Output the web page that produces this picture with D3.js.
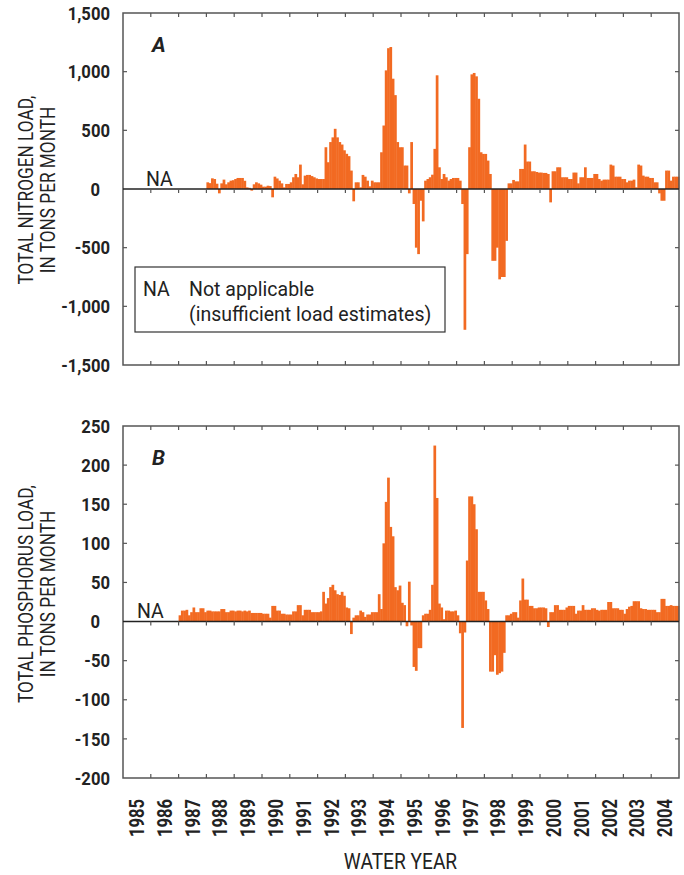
<!DOCTYPE html>
<html>
<head>
<meta charset="utf-8">
<script src="https://cdn.jsdelivr.net/npm/d3@7/dist/d3.min.js"></script>
<style>
  html, body { margin: 0; padding: 0; background: #fff; }
  svg { display: block; }
  text { font-family: Roboto, 'Liberation Sans', 'DejaVu Sans', sans-serif; fill: #222; }
</style>
</head>
<body>
<svg id="chart" width="684" height="875"></svg>
<script>
// ---------------- DATA ----------------
const waterYears = ["1985","1986","1987","1988","1989","1990","1991","1992","1993","1994",
                    "1995","1996","1997","1998","1999","2000","2001","2002","2003","2004"];

// Monthly change in total nitrogen load, tons per month, beginning October 1987 (water year 1988)
const nitrogenStartYear = "1988";
const nitrogenMonthly = [
  57, 50, 91, 85, 45, -37, 48, 80, 40, 57, 71, 75,
  85, 94, 94, 94, 70, 14, 10, -14, 40, 57, 48, 37,
  20, 20, 28, 25, -71, 105, 90, 71, 48, 14, 43, 43,
  57, 100, 128, 100, 208, 40, 114, 120, 120, 110, 100, 90,
  85, 85, 85, 356, 228, 400, 440, 513, 440, 400, 379, 330,
  300, 280, 157, -105, 57, 57, 14, 120, 105, 71, 23, 71,
  57, 57, 57, 313, 541, 1011, 1200, 1210, 940, 800, 400, 356,
  356, 200, 200, -37, 400, -128, -500, -555, -100, -276, 71, 85,
  100, 122, 342, 969, 185, 85, 128, 100, 71, 85, 94, 94,
  94, 71, -128, -1200, -555, 356, 977, 989, 960, 769, 313, 299,
  299, 242, 128, -612, -612, -500, -770, -750, -750, -442, 48, 48,
  77, 65, 65, 171, 171, 379, 234, 234, 151, 151, 145, 140,
  140, 137, 137, 128, -114, 151, 151, 185, 185, 100, 100, 100,
  85, 85, 140, 140, 48, 100, 100, 185, 94, 94, 94, 128,
  128, 85, 71, 80, 80, 80, 208, 200, 105, 105, 105, 85,
  85, 57, 71, 71, 80, 14, 208, 200, 114, 105, 105, 94,
  94, 57, 57, -37, -100, -100, 157, 157, 71, 105, 105, 105
];

// Monthly change in total phosphorus load, tons per month, beginning October 1986 (water year 1987)
const phosphorusStartYear = "1987";
const phosphorusMonthly = [
  8, 14, 14, 15, 8, 12, 18, 12, 12, 17, 17, 12,
  14, 14, 13, 13, 13, 13, 16, 16, 12, 12, 14, 14,
  13, 14, 14, 13, 14, 13, 14, 11, 11, 11, 11, 11,
  10, 10, 10, 5, 20, 20, 14, 14, 10, 10, 9, 9,
  9, 13, 13, 21, 21, 8, 15, 15, 15, 12, 12, 12,
  12, 13, 38, 23, 30, 44, 47, 40, 35, 34, 38, 33,
  18, 17, -16, 5, 8, 8, 14, 12, 6, 9, 9, 12,
  12, 12, 35, 16, 100, 153, 184, 121, 109, 44, 40, 46,
  24, 21, -6, 51, -5, -58, -63, -34, -34, 8, 10, 10,
  15, 47, 225, 158, 23, 18, 3, 14, 14, 13, 13, 14,
  8, -15, -136, -14, 78, 160, 160, 150, 118, 38, 38, 38,
  27, 16, -64, -64, -43, -68, -66, -64, -40, 8, 8, 10,
  12, 12, 5, 27, 55, 28, 28, 20, 20, 17, 17, 18,
  18, 18, 17, -7, 12, 12, 21, 21, 15, 15, 15, 18,
  20, 20, 20, 10, 14, 14, 21, 15, 15, 15, 17, 17,
  15, 14, 15, 15, 15, 25, 25, 17, 17, 17, 15, 15,
  10, 16, 19, 20, 26, 26, 26, 17, 16, 16, 15, 15,
  15, 15, 12, 12, 29, 29, 20, 20, 21, 20, 20, 20
];

const nitrogenTicks = [-1500, -1000, -500, 0, 500, 1000, 1500];
const phosphorusTicks = [-200, -150, -100, -50, 0, 50, 100, 150, 200, 250];

// ---------------- LAYOUT ----------------
const svg = d3.select("#chart");
const barColor = "#f26a22";
const frameColor = "#555";
const left = 123, right = 679;
const monthsTotal = waterYears.length * 12;

const x = d3.scaleLinear().domain([0, monthsTotal]).range([left, right]);

const fmt = d => (d < 0 ? "-" : "") + d3.format(",")(Math.abs(d));

function panel(cfg) {
  const y = d3.scaleLinear().domain(cfg.domain).range([cfg.bottom, cfg.top]);
  const g = svg.append("g");
  const startIdx = waterYears.indexOf(cfg.startYear) * 12;
  const data = cfg.values.map((v, k) => ({ i: startIdx + k, v }));

  // bars
  g.append("g").selectAll("rect").data(data).join("rect")
    .attr("x", d => x(d.i))
    .attr("width", d => x(d.i + 1) - x(d.i) + 0.4)
    .attr("y", d => y(Math.max(0, d.v)))
    .attr("height", d => Math.abs(y(d.v) - y(0)))
    .attr("fill", barColor);

  // frame
  g.append("rect")
    .attr("x", left).attr("y", cfg.top)
    .attr("width", right - left).attr("height", cfg.bottom - cfg.top)
    .attr("fill", "none").attr("stroke", frameColor).attr("stroke-width", 1.5);

  // zero line
  g.append("line")
    .attr("x1", left).attr("x2", right)
    .attr("y1", y(0)).attr("y2", y(0))
    .attr("stroke", "#222").attr("stroke-width", 1.5);

  // x ticks (year boundaries) on top, bottom (inward) and below the zero line
  const yearBounds = d3.range(1, waterYears.length).map(k => k * 12);
  const tl = 4;
  const xt = g.append("g").attr("stroke", frameColor).attr("stroke-width", 1.2);
  yearBounds.forEach(m => {
    const xx = x(m);
    xt.append("line").attr("x1", xx).attr("x2", xx).attr("y1", cfg.top).attr("y2", cfg.top + tl);
    xt.append("line").attr("x1", xx).attr("x2", xx).attr("y1", cfg.bottom).attr("y2", cfg.bottom - tl);
    xt.append("line").attr("x1", xx).attr("x2", xx).attr("y1", y(0)).attr("y2", y(0) + tl);
  });

  // y ticks inward on both sides
  cfg.ticks.forEach(t => {
    if (t === cfg.domain[0] || t === cfg.domain[1] || t === 0) return;
    xt.append("line").attr("x1", left).attr("x2", left + tl).attr("y1", y(t)).attr("y2", y(t));
    xt.append("line").attr("x1", right).attr("x2", right - tl).attr("y1", y(t)).attr("y2", y(t));
  });

  // y tick labels (condensed bold)
  g.append("g")
    .selectAll("text").data(cfg.ticks).join("text")
    .attr("transform", d => `translate(${d === 0 ? 100 : 110},${y(d)}) scale(0.9,1)`)
    .attr("dy", "0.36em")
    .attr("text-anchor", "end")
    .attr("font-size", 18.5).attr("font-weight", "bold")
    .text(fmt);

  // y axis title
  const cy = cfg.titleY;
  g.append("text")
    .attr("transform", `translate(33,${cy}) rotate(-90) scale(0.84,1)`)
    .attr("text-anchor", "middle").attr("font-size", 20.5).text(cfg.title1);
  g.append("text")
    .attr("transform", `translate(55,${cy}) rotate(-90) scale(0.84,1)`)
    .attr("text-anchor", "middle").attr("font-size", 20.5).text(cfg.title2);

  // panel letter
  g.append("text")
    .attr("x", 152).attr("y", cfg.top + 39)
    .attr("font-size", 21).attr("font-weight", "bold").attr("font-style", "italic")
    .text(cfg.letter);

  // NA marker
  g.append("text")
    .attr("transform", `translate(${cfg.naX},${y(0) - 3.5}) scale(0.93,1)`)
    .attr("font-size", 21).text("NA");

  return y;
}

panel({
  top: 13, bottom: 365, domain: [-1500, 1500], ticks: nitrogenTicks,
  values: nitrogenMonthly, startYear: nitrogenStartYear,
  title1: "TOTAL NITROGEN LOAD,", title2: "IN TONS PER MONTH",
  letter: "A", naX: 146, titleY: 190
});

panel({
  top: 426, bottom: 778, domain: [-200, 250], ticks: phosphorusTicks,
  values: phosphorusMonthly, startYear: phosphorusStartYear,
  title1: "TOTAL PHOSPHORUS LOAD,", title2: "IN TONS PER MONTH",
  letter: "B", naX: 137, titleY: 594
});

// legend box (panel A)
const lg = svg.append("g");
lg.append("rect").attr("x", 135).attr("y", 267).attr("width", 310).attr("height", 65)
  .attr("fill", "#fff").attr("stroke", "#333").attr("stroke-width", 1.2);
lg.append("text").attr("transform", "translate(143,296) scale(0.93,1)").attr("font-size", 21).text("NA");
lg.append("text").attr("transform", "translate(189,296) scale(0.93,1)").attr("font-size", 21).text("Not applicable");
lg.append("text").attr("transform", "translate(189,321) scale(0.93,1)").attr("font-size", 21).text("(insufficient load estimates)");

// x-axis year labels
svg.append("g")
  .selectAll("text").data(waterYears).join("text")
  .attr("transform", (d, k) => `translate(${x(k * 12 + 6) + 7},799) rotate(-90) scale(0.85,1)`)
  .attr("text-anchor", "end")
  .attr("font-size", 19.5).attr("font-weight", "bold")
  .text(d => d);

svg.append("text")
  .attr("transform", "translate(400.5,869) scale(0.87,1)")
  .attr("text-anchor", "middle")
  .attr("font-size", 22).text("WATER YEAR");
</script>
</body>
</html>
